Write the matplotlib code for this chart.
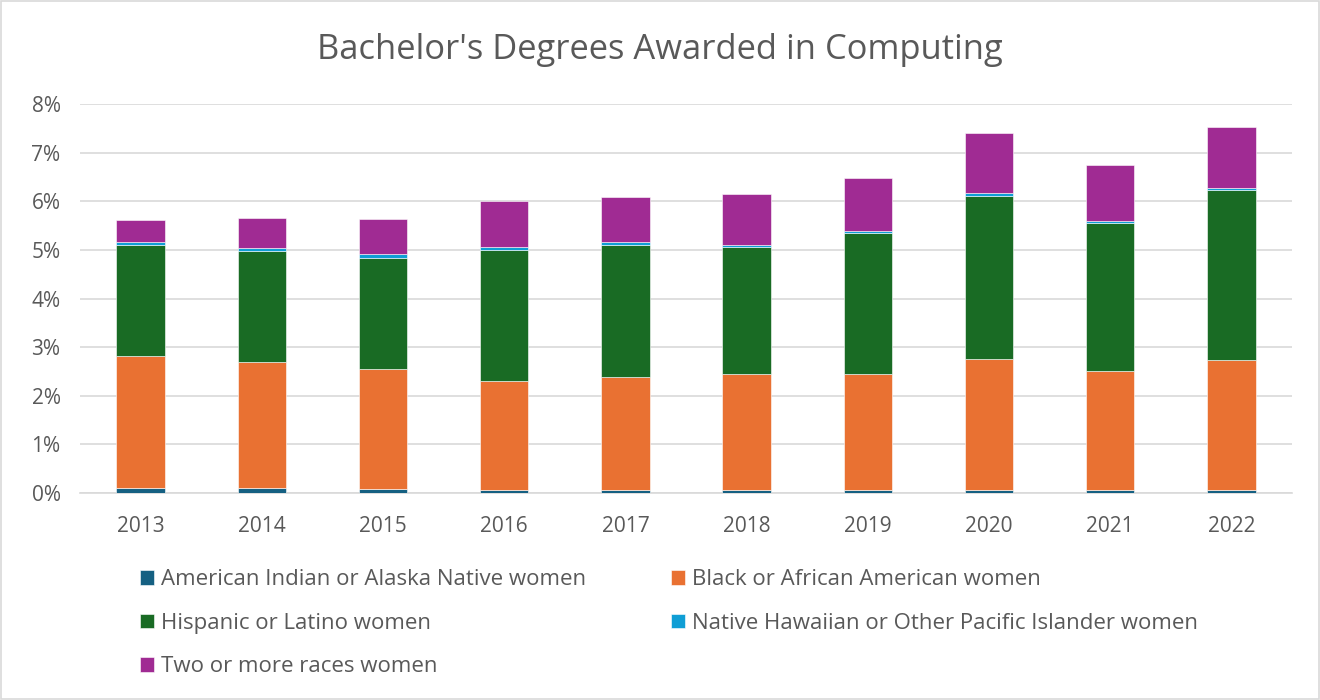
import numpy as np
import matplotlib.pyplot as plt
from matplotlib.patches import Rectangle

plt.rcParams['font.family'] = ['Open Sans', 'DejaVu Sans']

years = ['2013', '2014', '2015', '2016', '2017', '2018', '2019', '2020', '2021', '2022']

# shares of all computing bachelor's degrees, in percent
american_indian = [0.09, 0.09, 0.07, 0.06, 0.06, 0.06, 0.06, 0.06, 0.06, 0.05]
black = [2.73, 2.61, 2.48, 2.24, 2.33, 2.39, 2.39, 2.70, 2.45, 2.69]
hispanic = [2.28, 2.27, 2.29, 2.69, 2.71, 2.61, 2.89, 3.36, 3.05, 3.50]
pacific_islander = [0.06, 0.07, 0.07, 0.07, 0.07, 0.04, 0.05, 0.05, 0.04, 0.04]
two_or_more = [0.46, 0.62, 0.73, 0.95, 0.92, 1.06, 1.10, 1.24, 1.15, 1.25]

series = [
    ('American Indian or Alaska Native women', american_indian, '#156082'),
    ('Black or African American women', black, '#E97132'),
    ('Hispanic or Latino women', hispanic, '#196B24'),
    ('Native Hawaiian or Other Pacific Islander women', pacific_islander, '#0F9ED5'),
    ('Two or more races women', two_or_more, '#A02B93'),
]

text_col = '#595959'
grid_col = '#D9D9D9'

fig = plt.figure(figsize=(13.2, 7.0), dpi=100)
ax = fig.add_axes([0.0606, 0.296, 0.9182, 0.555])

x = np.arange(len(years))
bottom = np.zeros(len(years))
handles = []
for name, vals, col in series:
    vals = np.array(vals) / 100
    b = ax.bar(x, vals, 0.4, bottom=bottom, color=col, label=name,
               edgecolor='white', linewidth=0.4, zorder=3)
    handles.append(b)
    bottom += vals

ax.set_xlim(-0.5, len(years) - 0.5)
ax.set_ylim(0, 0.08)
ax.set_yticks(np.arange(0, 0.081, 0.01))
ax.set_yticklabels([f'{i}%' for i in range(9)])
ax.set_xticks(x)
ax.set_xticklabels(years)
ax.tick_params(axis='both', length=0, labelsize=15, colors=text_col)
ax.tick_params(axis='x', pad=17)
ax.tick_params(axis='y', pad=14)
ax.grid(axis='y', color=grid_col, linewidth=1.2, zorder=0)
for s in ['top', 'right', 'left']:
    ax.spines[s].set_visible(False)
ax.spines['bottom'].set_color(grid_col)
ax.spines['bottom'].set_linewidth(1.2)

fig.text(0.5, 0.928, "Bachelor's Degrees Awarded in Computing", ha='center', va='center',
         fontsize=24.8, color=text_col)

# legend fills column-wise, so reorder to get the row layout
order = [0, 2, 4, 1, 3]
leg = fig.legend([handles[i] for i in order], [series[i][0] for i in order],
                 loc='upper left', bbox_to_anchor=(0.106, 0.187), ncol=2,
                 frameon=False, fontsize=16, handlelength=0.65, handleheight=0.65,
                 handletextpad=0.3, columnspacing=3.8, labelspacing=1.02,
                 borderaxespad=0, borderpad=0)
for t in leg.get_texts():
    t.set_color(text_col)

fig.patches.append(Rectangle((0.001, 0.001), 0.998, 0.998, transform=fig.transFigure,
                             fill=False, edgecolor=grid_col, linewidth=1.2))

fig.savefig('out.png', dpi=100)
